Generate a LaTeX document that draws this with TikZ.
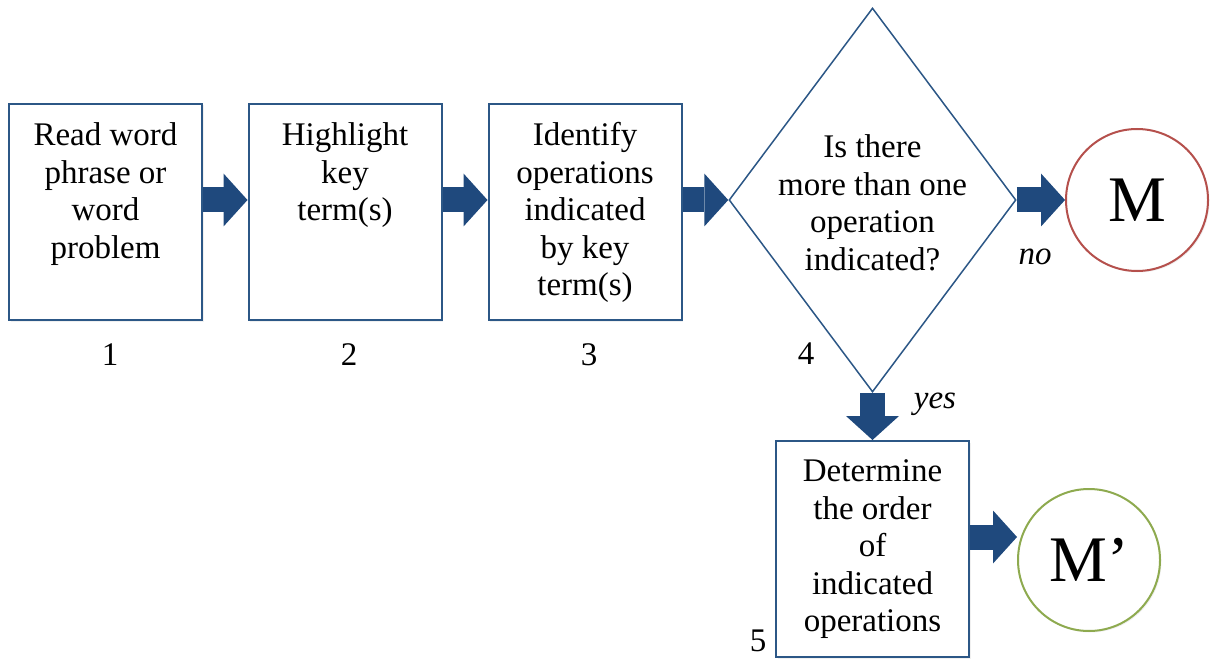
\documentclass[tikz,border=0pt]{standalone}
\usepackage{fontspec}
\setmainfont{Liberation Serif}
\usetikzlibrary{shapes.geometric,arrows.meta,shadows}
\definecolor{arrowblue}{HTML}{1F497D}
\definecolor{boxblue}{HTML}{2C5786}
\definecolor{mred}{HTML}{B5504C}
\definecolor{mgreen}{HTML}{8EAA4F}
\begin{document}
\begin{tikzpicture}[x=1pt,y=-1pt,
  shade/.style={drop shadow={opacity=0.12, shadow xshift=1.5pt, shadow yshift=-1.5pt}},
  stepbox/.style={draw=boxblue, line width=2pt, fill=white, minimum width=193pt, minimum height=216pt, inner sep=0pt, shade},
  txt/.style={font=\fontsize{33}{37.5}\selectfont, align=center, inner sep=0pt, anchor=north},
  num/.style={font=\fontsize{33}{37.5}\selectfont, inner sep=0pt},
  lbl/.style={font=\fontsize{33}{37.5}\selectfont\itshape, inner sep=0pt, anchor=base},
  endcirc/.style={circle, line width=2pt, fill=white, minimum size=142pt, inner sep=0pt, font=\fontsize{65}{70}\selectfont, shade},
  blockarrow/.style={arrowblue, line width=25pt, -{Triangle[length=24pt 0 0, width=53pt 0 0, line width=0pt 0 0]}}
]
\useasboundingbox (0,0) rectangle (1212,660);

% boxes
\node[stepbox] (b1) at (105.5,212) {};
\node[txt] (t1) at (105.5,122.5) {Read word\\phrase or\\word\\problem};
\node[stepbox] (b2) at (345,212) {};
\node[txt] (t2) at (345,122.5) {Highlight\\key\\term(s)};
\node[stepbox] (b3) at (585,212) {};
\node[txt] (t3) at (585,122.5) {Identify\\operations\\indicated\\by key\\term(s)};

% decision
\node[diamond, draw=boxblue, line width=1.5pt, fill=white, minimum width=287pt, minimum height=384pt, inner sep=0pt] (d) at (872.5,200) {};
\node[txt] (t4) at (872.5,134.5) {Is there\\more than one\\operation\\indicated?};

% step 5
\node[stepbox] (b5) at (872.5,549) {};
\node[txt] (t5) at (872.5,459.5) {Determine\\the order\\of\\indicated\\operations};

% end circles
\node[endcirc, draw=mred] (M) at (1137,200) {M};
\node[endcirc, draw=mgreen] (Mp) at (1089,560) {M’};

% numbers
\node[num] (n1) at (110,355) {1};
\node[num] (n2) at (349,355) {2};
\node[num] (n3) at (589,355) {3};
\node[num] (n4) at (806,354) {4};
\node[num] (n5) at (758,641) {5};

% labels
\node[lbl] (no) at (1035,265) {no};
\node[lbl] (yes) at (935,408) {yes};

% connectors
\coordinate (row5) at (0,537);
\draw[blockarrow] (b1.east |- d.west) -- (b2.west |- d.west);
\draw[blockarrow] (b2.east |- d.west) -- (b3.west |- d.west);
\draw[blockarrow] (b3.east |- d.west) -- (d.west);
\draw[blockarrow] (d.east) -- (M.west);
\draw[blockarrow] (d.south) -- (b5.north);
\draw[blockarrow] (b5.east |- row5) -- (Mp.west |- row5);
\end{tikzpicture}
\end{document}
